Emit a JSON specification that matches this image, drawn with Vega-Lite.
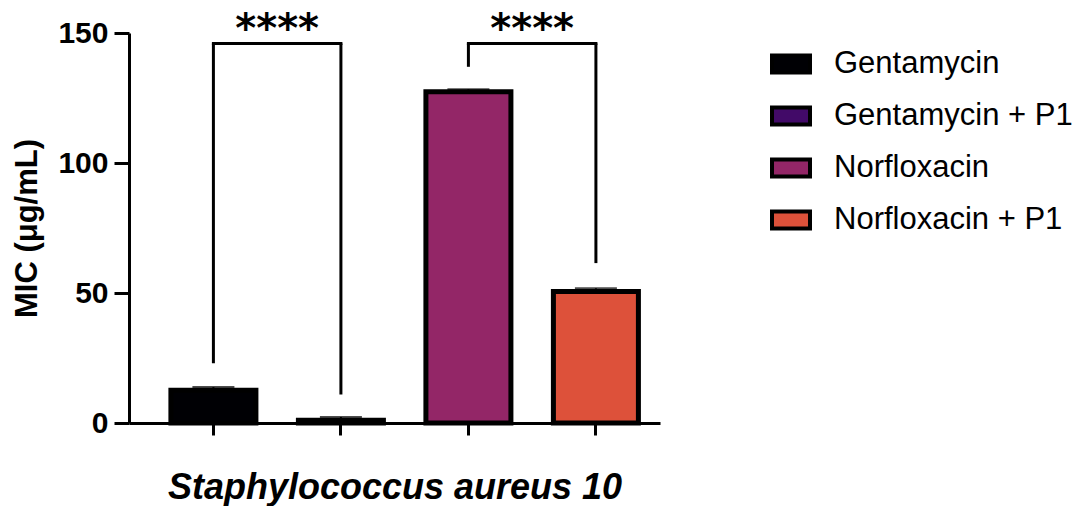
{
  "$schema": "https://vega.github.io/schema/vega-lite/v6.json",
  "autosize": {"type": "none"},
  "padding": {"left": 129, "top": 33, "right": 415, "bottom": 83},
  "width": 531,
  "height": 390,
  "background": "white",
  "config": {
    "view": {"stroke": null},
    "font": "Liberation Sans"
  },
  "datasets": {
    "bars": [
      {"drug": "Gentamycin", "mic": 12.6, "hi": 13.8},
      {"drug": "Gentamycin + P1", "mic": 1.1, "hi": 2.3},
      {"drug": "Norfloxacin", "mic": 127.4, "hi": 128.4},
      {"drug": "Norfloxacin + P1", "mic": 50.6, "hi": 51.8}
    ],
    "brackets": [
      {"from": "Gentamycin", "to": "Gentamycin + P1", "left_end": 23, "right_end": 11, "top": 146, "label": "****", "label_y": 146.5},
      {"from": "Norfloxacin", "to": "Norfloxacin + P1", "left_end": 137, "right_end": 61.5, "top": 146, "label": "****", "label_y": 146.5}
    ]
  },
  "layer": [
    {
      "data": {"name": "bars"},
      "mark": {"type": "bar", "stroke": "black", "strokeWidth": 5},
      "encoding": {
        "x": {
          "field": "drug", "type": "nominal",
          "sort": ["Gentamycin", "Gentamycin + P1", "Norfloxacin", "Norfloxacin + P1"],
          "scale": {"paddingInner": 0.3333, "paddingOuter": 0.249, "align": 0.66},
          "axis": {
            "labels": false, "domainWidth": 3, "domainColor": "black",
            "tickWidth": 3, "tickColor": "black", "tickSize": 12,
            "title": "Staphylococcus aureus 10",
            "titleFont": "Liberation Sans", "titleFontSize": 36, "titleFontWeight": "bold",
            "titleFontStyle": "italic", "titleColor": "black", "titlePadding": 34
          }
        },
        "y": {
          "field": "mic", "type": "quantitative",
          "scale": {"domain": [0, 150], "nice": false},
          "axis": {
            "values": [0, 50, 100, 150], "grid": false,
            "domainWidth": 3, "domainColor": "black",
            "tickWidth": 3, "tickColor": "black", "tickSize": 15,
            "labelFont": "Liberation Sans", "labelFontSize": 30, "labelFontWeight": "bold",
            "labelColor": "black", "labelPadding": 6,
            "title": "MIC (μg/mL)",
            "titleFont": "Liberation Sans", "titleFontSize": 31, "titleFontWeight": "bold",
            "titleColor": "black", "titlePadding": 14
          }
        },
        "color": {
          "field": "drug", "type": "nominal",
          "scale": {
            "domain": ["Gentamycin", "Gentamycin + P1", "Norfloxacin", "Norfloxacin + P1"],
            "range": ["#000004", "#420a68", "#932667", "#dd513a"]
          },
          "legend": {
            "title": null,
            "orient": "none", "legendX": 641, "legendY": 10,
            "padding": 0,
            "symbolType": "M-1,-0.45H1V0.45H-1Z",
            "symbolSize": 1444,
            "symbolStrokeColor": "black", "symbolStrokeWidth": 4,
            "symbolOpacity": 1,
            "labelFont": "Liberation Sans", "labelFontSize": 31, "labelColor": "black",
            "labelOffset": 22, "rowPadding": 14, "labelLimit": 400
          }
        }
      }
    },
    {
      "data": {"name": "bars"},
      "mark": {"type": "rule", "color": "black", "strokeWidth": 2},
      "encoding": {
        "x": {"field": "drug", "type": "nominal"},
        "y": {"field": "mic", "type": "quantitative"},
        "y2": {"field": "hi"}
      }
    },
    {
      "data": {"name": "bars"},
      "mark": {"type": "tick", "color": "black", "thickness": 2, "size": 42, "orient": "horizontal"},
      "encoding": {
        "x": {"field": "drug", "type": "nominal"},
        "y": {"field": "hi", "type": "quantitative"}
      }
    },
    {
      "data": {"name": "brackets"},
      "mark": {"type": "rule", "color": "black", "strokeWidth": 3},
      "encoding": {
        "x": {"field": "from", "type": "nominal"},
        "y": {"field": "left_end", "type": "quantitative"},
        "y2": {"field": "top"}
      }
    },
    {
      "data": {"name": "brackets"},
      "mark": {"type": "rule", "color": "black", "strokeWidth": 3},
      "encoding": {
        "x": {"field": "to", "type": "nominal"},
        "y": {"field": "right_end", "type": "quantitative"},
        "y2": {"field": "top"}
      }
    },
    {
      "data": {"name": "brackets"},
      "mark": {"type": "rule", "color": "black", "strokeWidth": 3, "strokeCap": "square"},
      "encoding": {
        "x": {"field": "from", "type": "nominal"},
        "x2": {"field": "to"},
        "y": {"field": "top", "type": "quantitative"}
      }
    },
    {
      "data": {"name": "brackets"},
      "mark": {"type": "text", "font": "DejaVu Sans", "fontSize": 40, "fontWeight": "bold", "color": "black", "baseline": "alphabetic", "align": "center"},
      "encoding": {
        "x": {"field": "from", "type": "nominal", "bandPosition": 1.25},
        "y": {"field": "label_y", "type": "quantitative"},
        "text": {"field": "label"}
      }
    }
  ]
}
